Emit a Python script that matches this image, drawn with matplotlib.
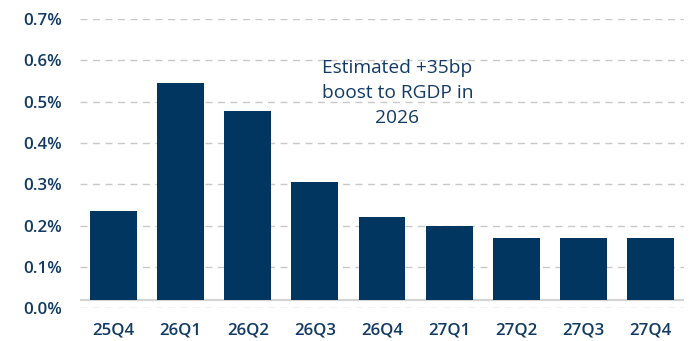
import matplotlib
matplotlib.use("Agg")
import matplotlib.pyplot as plt
from matplotlib.ticker import FuncFormatter

categories = ["25Q4", "26Q1", "26Q2", "26Q3", "26Q4", "27Q1", "27Q2", "27Q3", "27Q4"]
values = [0.235, 0.545, 0.478, 0.305, 0.222, 0.20, 0.17, 0.17, 0.17]
y_ticks = [0.0, 0.1, 0.2, 0.3, 0.4, 0.5, 0.6, 0.7]
baseline = 0.02
annotation = "Estimated +35bp\nboost to RGDP in\n2026"

navy = "#003660"
text_color = "#123a64"

plt.rcParams["font.family"] = ["Open Sans", "DejaVu Sans"]

fig = plt.figure(figsize=(6.89, 3.41), dpi=100)
ax = fig.add_axes([80/689, 1-308.3/341, (684-80)/689, (308.3-19)/341])

x = list(range(len(categories)))
ax.bar(x, [v - baseline for v in values], bottom=baseline, width=0.7, color=navy, zorder=3)
ax.axhline(baseline, color="#d4d4d4", lw=1.6, zorder=2)

ax.set_ylim(0, 0.7)
ax.set_xlim(-0.5, len(categories) - 0.5)
ax.set_yticks(y_ticks)
ax.yaxis.set_major_formatter(FuncFormatter(lambda v, p: f"{v:.1f}%"))
ax.set_xticks(x)
ax.set_xticklabels(categories)
ax.grid(axis="y", color="#c8c8c8", linestyle=(0, (5, 4)), lw=1, zorder=1)
for s in ax.spines.values():
    s.set_visible(False)
ax.tick_params(axis="both", length=0, labelsize=12.2, colors=text_color)
for lbl in ax.get_xticklabels() + ax.get_yticklabels():
    lbl.set_fontweight("semibold")
ax.tick_params(axis="y", pad=13)
ax.tick_params(axis="x", pad=10)

ax.text(4.23, 0.522, annotation, ha="center", va="center", fontsize=13.8,
        color=text_color, linespacing=1.5, zorder=4)

fig.savefig("out.png", dpi=100)
